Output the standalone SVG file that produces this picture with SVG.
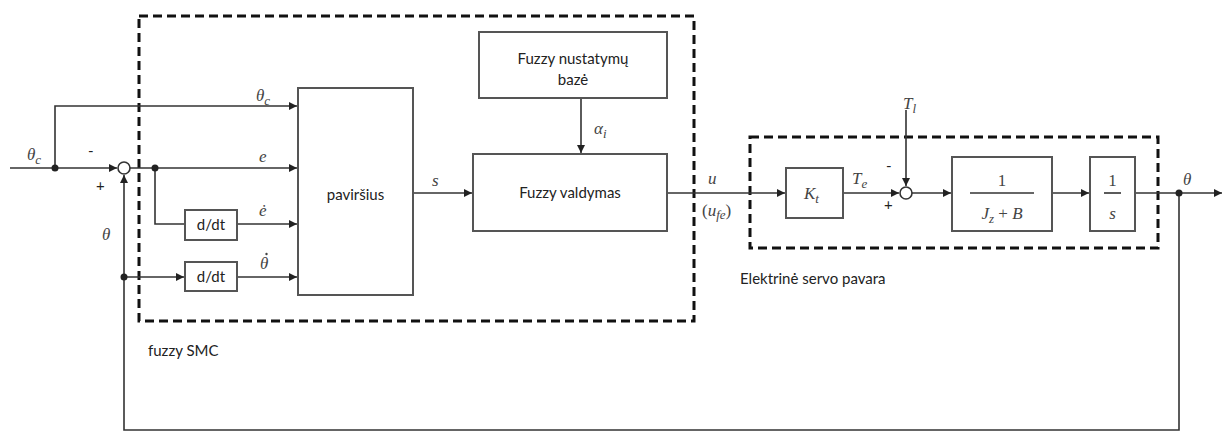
<svg xmlns="http://www.w3.org/2000/svg" width="1224" height="432" viewBox="0 0 1224 432">
<defs>
<marker id="ah" viewBox="0 0 10 10" refX="10" refY="5" markerWidth="10" markerHeight="8" markerUnits="userSpaceOnUse" orient="auto"><path d="M0,0 L10,5 L0,10 z" fill="#222"/></marker>
<style>
.w{stroke:#333;stroke-width:1.6;fill:none}
.a{stroke:#333;stroke-width:1.6;fill:none;marker-end:url(#ah)}
.b{stroke:#555;stroke-width:2;fill:#fff}
.d{stroke:#111;stroke-width:3;fill:none;stroke-dasharray:9 5}
.t{font-family:Lato,"Open Sans",sans-serif;font-size:15px;fill:#222}
.m{font-family:"Liberation Serif",serif;font-style:italic;font-size:17px;fill:#444}
.n{font-family:"Liberation Serif",serif;font-size:17px;fill:#444}
.s{font-family:"Liberation Serif",serif;font-size:13px;fill:#444}
</style>
</defs>
<rect width="1224" height="432" fill="#fff"/>
<g id="smc-box"><rect x="139" y="16" width="555" height="305" class="d"/><text x="148" y="356" class="t" font-size="14">fuzzy SMC</text></g>
<g id="servo-box"><rect x="750" y="137" width="408" height="111" class="d"/><text x="740" y="284" class="t" font-size="15.5">Elektrinė servo pavara</text></g>
<g id="connectors">
<path d="M10,168 H117" class="a"/>
<path d="M55,168 V106 H297" class="a"/>
<path d="M130,168 H297" class="a"/>
<path d="M155,168 V224 H185" class="w"/>
<path d="M237,224 H297" class="a"/>
<path d="M124,277 H184" class="a"/>
<path d="M237,277 H297" class="a"/>
<path d="M413,193 H472" class="a"/>
<path d="M581,98 V153" class="a"/>
<path d="M667,193 H785" class="a"/>
<path d="M843,193 H899" class="a"/>
<path d="M906,110 V186" class="a"/>
<path d="M912,193 H951" class="a"/>
<path d="M1052,193 H1089" class="a"/>
<path d="M1135,193 H1222" class="a"/>
<path d="M1179,193 V430 H124 V175" class="a"/>
<circle cx="55" cy="168" r="3.5" fill="#222"/>
<circle cx="155" cy="168" r="3.5" fill="#222"/>
<circle cx="124" cy="277" r="3.5" fill="#222"/>
<circle cx="1179" cy="193" r="3.5" fill="#222"/>
</g>
<g id="sum1"><circle cx="124" cy="168" r="6" fill="#fff" stroke="#333" stroke-width="1.6"/><text x="88" y="156" class="t">-</text><text x="96" y="191" class="t">+</text></g>
<g id="sum2"><circle cx="906" cy="193" r="6" fill="#fff" stroke="#333" stroke-width="1.6"/><text x="886" y="171" class="t">-</text><text x="884" y="210" class="t">+</text></g>
<g id="pavirsius"><rect x="298" y="88" width="115" height="207" class="b"/><text x="355.5" y="200" class="t" font-size="17" text-anchor="middle">paviršius</text></g>
<g id="ddt1"><rect x="185" y="210" width="52" height="30" class="b"/><text x="211" y="230" class="t" text-anchor="middle">d/dt</text></g>
<g id="ddt2"><rect x="185" y="262" width="52" height="29" class="b"/><text x="211" y="282" class="t" text-anchor="middle">d/dt</text></g>
<g id="fuzzy-baze"><rect x="479" y="32" width="188" height="66" class="b"/><text x="573" y="64" class="t" text-anchor="middle">Fuzzy nustatymų</text><text x="573" y="85" class="t" text-anchor="middle">bazė</text></g>
<g id="fuzzy-valdymas"><rect x="473" y="154" width="194" height="77" class="b"/><text x="570" y="198" class="t" font-size="16" text-anchor="middle">Fuzzy valdymas</text></g>
<g id="kt"><rect x="786" y="168" width="57" height="50" class="b"/><text x="804" y="199" class="m">K<tspan class="s" dy="4">t</tspan></text></g>
<g id="plant"><rect x="952" y="157" width="100" height="74" class="b"/><text x="1002" y="186" class="n" text-anchor="middle">1</text><path d="M970,193 H1034" class="w"/><text x="1002" y="219" class="m" text-anchor="middle">J<tspan class="s" dy="4">z</tspan><tspan dy="-4" font-style="normal"> + </tspan>B</text></g>
<g id="integrator"><rect x="1090" y="157" width="45" height="74" class="b"/><text x="1112.5" y="186" class="n" text-anchor="middle">1</text><path d="M1104,193 H1121" class="w"/><text x="1112.5" y="219" class="m" text-anchor="middle">s</text></g>
<g id="labels">
<text x="27" y="160" class="m">θ<tspan class="s" dy="4">c</tspan></text>
<text x="256" y="101" class="m">θ<tspan class="s" dy="4">c</tspan></text>
<text x="259" y="162" class="m" font-size="14">e</text>
<text x="259" y="216" class="m" font-size="14">ė</text>
<text x="260" y="269" class="m">θ</text>
<circle cx="266.5" cy="254" r="1.2" fill="#444"/>
<text x="102" y="240" class="m">θ</text>
<text x="432" y="186" class="m" font-size="15">s</text>
<text x="594" y="134" class="m">α<tspan class="s" dy="4">i</tspan></text>
<text x="708" y="184" class="m" font-size="15">u</text>
<text x="702" y="216" class="n" font-size="15">(<tspan font-style="italic">u</tspan><tspan class="s" font-style="italic" dy="3">fe</tspan><tspan dy="-3">)</tspan></text>
<text x="852" y="184" class="m">T<tspan class="s" dy="4">e</tspan></text>
<text x="903" y="109" class="m">T<tspan class="s" dy="4">l</tspan></text>
<text x="1183" y="185" class="m">θ</text>
</g>
</svg>
